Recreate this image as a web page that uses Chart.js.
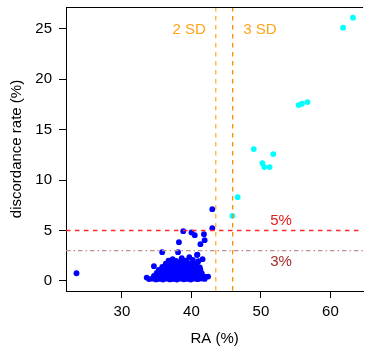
<!DOCTYPE html>
<html>
<head>
<meta charset="utf-8">
<script src="https://cdn.jsdelivr.net/npm/chart.js@4/dist/chart.umd.min.js"></script>
<style>
  html, body { margin: 0; padding: 0; background: #fff; }
  #wrap { width: 366px; height: 347px; position: relative; }
</style>
</head>
<body>
<div id="wrap"><canvas id="c"></canvas></div>
<script>
// Centres within the normal range (RA below the 3 SD cut-off)
const raNormal = [
  23.46, 43.0, 43.0, 38.82, 40.01, 40.48, 41.8, 41.9, 38.2, 41.29,
  35.79, 38.07, 40.86, 37.3, 41.6, 38.6, 39.7, 34.6, 33.56, 42.4,
  40.8, 40.2, 37.25, 38.7,
  33.9, 34.4, 34.9, 35.4, 35.9, 36.4, 36.9, 37.4, 37.9, 38.4, 38.9, 39.4, 39.9, 40.4, 40.9, 41.4, 41.9,
  34.6, 35.1, 35.6, 36.1, 36.6, 37.1, 37.6, 38.1, 38.6, 39.1, 39.6, 40.1, 40.6, 41.1, 41.6, 42.0,
  35.0, 35.5, 36.0, 36.5, 37.0, 37.5, 38.0, 38.5, 39.0, 39.5, 40.0, 40.5, 41.0, 41.5,
  35.3, 35.8, 36.3, 36.8, 37.3, 37.8, 38.3, 38.8, 39.3, 39.8, 40.3, 40.8, 41.3,
  35.8, 36.4, 36.9, 37.4, 38.0, 38.5, 39.1, 39.6, 40.2, 40.7, 41.2,
  36.3, 36.9, 37.6, 38.2, 38.9, 39.5, 40.1, 40.8,
  36.7, 37.8, 39.2, 41.0
];
const rateNormal = [
  0.76, 7.11, 5.23, 4.93, 4.8, 4.53, 4.63, 4.04, 3.84, 3.64,
  2.85, 2.85, 2.61, 2.15, 2.15, 2.25, 2.35, 1.46, 0.33, 0.43,
  2.58, 2.08, 2.08, 2.08,
  0.18, 0.22, 0.15, 0.2, 0.13, 0.22, 0.15, 0.19, 0.13, 0.22, 0.16, 0.2, 0.14, 0.22, 0.17, 0.24, 0.2,
  0.5, 0.42, 0.48, 0.44, 0.5, 0.42, 0.47, 0.44, 0.5, 0.42, 0.46, 0.45, 0.5, 0.42, 0.47, 0.4,
  0.8, 0.85, 0.77, 0.83, 0.75, 0.85, 0.79, 0.82, 0.75, 0.85, 0.78, 0.83, 0.77, 0.75,
  1.1, 1.2, 1.12, 1.18, 1.1, 1.2, 1.14, 1.17, 1.1, 1.2, 1.12, 1.15, 1.08,
  1.4, 1.5, 1.42, 1.48, 1.4, 1.5, 1.45, 1.4, 1.5, 1.42, 1.35,
  1.7, 1.8, 1.75, 1.8, 1.72, 1.78, 1.7, 1.75,
  2.0, 1.98, 2.0, 1.95
];

// Centres beyond the 3 SD cut-off
const raHigh = [63.24, 61.82, 55.42, 55.9, 56.7, 48.97, 51.77, 50.2, 50.48, 51.25, 46.65, 45.89];
const rateHigh = [26.09, 25.1, 17.43, 17.56, 17.73, 13.07, 12.57, 11.68, 11.28, 11.28, 8.3, 6.45];

// Axis ticks
const xTicks = [30, 40, 50, 60];
const yTicks = [0, 5, 10, 15, 20, 25];

// Cut-offs
const sdLines = [43.5, 45.93];
const sdLabels = ['2 SD', '3 SD'];
const rateLines = [5, 3];
const rateLabels = ['5%', '3%'];

const FONT = '"Liberation Sans", Arial, Helvetica, sans-serif';

const toPoints = (xs, ys) => xs.map((x, i) => ({ x: x, y: ys[i] }));

const overlay = {
  id: 'overlay',
  afterDatasetsDraw(chart) {
    const { ctx, chartArea: a, scales: { x, y } } = chart;
    ctx.save();
    ctx.beginPath();
    ctx.rect(a.left, a.top, a.right - a.left, a.bottom - a.top);
    ctx.clip();

    // vertical SD cut-offs
    const sdColors = ['#FFB030', '#FF8C00'];
    sdLines.forEach((v, i) => {
      const px = x.getPixelForValue(v);
      ctx.strokeStyle = sdColors[i];
      ctx.lineWidth = 1.3;
      ctx.setLineDash([4.5, 4.5]);
      ctx.beginPath();
      ctx.moveTo(px, a.top);
      ctx.lineTo(px, a.bottom);
      ctx.stroke();
    });

    // horizontal discordance-rate cut-offs
    const rateStyles = [
      { color: '#FF2828', dash: [4.5, 4.5] },
      { color: '#BC8F8F', dash: [4.5, 3, 1.5, 3] }
    ];
    rateLines.forEach((v, i) => {
      const py = y.getPixelForValue(v);
      ctx.strokeStyle = rateStyles[i].color;
      ctx.lineWidth = 1.4;
      ctx.setLineDash(rateStyles[i].dash);
      ctx.beginPath();
      ctx.moveTo(a.left, py);
      ctx.lineTo(a.right, py);
      ctx.stroke();
    });
    ctx.restore();

    ctx.save();
    ctx.font = '15px ' + FONT;
    ctx.textBaseline = 'middle';

    // SD labels beside their lines
    ctx.fillStyle = '#FFA31A';
    const labY = y.getPixelForValue(24.9);
    ctx.textAlign = 'right';
    ctx.fillText(sdLabels[0], x.getPixelForValue(sdLines[0]) - 10, labY);
    ctx.textAlign = 'left';
    ctx.fillText(sdLabels[1], x.getPixelForValue(sdLines[1]) + 10.5, labY);

    // rate labels
    ctx.textAlign = 'center';
    ctx.fillStyle = '#E41A1C';
    ctx.fillText(rateLabels[0], x.getPixelForValue(52.9), y.getPixelForValue(5.95));
    ctx.fillStyle = '#A52A2A';
    ctx.fillText(rateLabels[1], x.getPixelForValue(52.9), y.getPixelForValue(1.9));

    // frame top edge
    ctx.strokeStyle = '#000';
    ctx.lineWidth = 1;
    ctx.beginPath();
    ctx.moveTo(a.left, Math.round(a.top) + 0.5);
    ctx.lineTo(a.right, Math.round(a.top) + 0.5);
    ctx.stroke();

    // axis titles
    ctx.fillStyle = '#000';
    ctx.textAlign = 'center';
    ctx.fillText('RA (%)', (a.left + a.right) / 2, 339);
    ctx.translate(16.5, (a.top + a.bottom) / 2);
    ctx.rotate(-Math.PI / 2);
    ctx.fillText('discordance rate (%)', 0, 0);
    ctx.restore();
  }
};

new Chart(document.getElementById('c'), {
  type: 'scatter',
  data: {
    datasets: [
      {
        data: toPoints(raNormal, rateNormal),
        backgroundColor: '#0000FF',
        borderWidth: 0,
        pointRadius: 2.9,
        pointHoverRadius: 2.9
      },
      {
        data: toPoints(raHigh, rateHigh),
        backgroundColor: '#00FFFF',
        borderWidth: 0,
        pointRadius: 2.9,
        pointHoverRadius: 2.9
      }
    ]
  },
  options: {
    responsive: true,
    maintainAspectRatio: false,
    animation: false,
    events: [],
    layout: { padding: { top: 7, right: 0, left: 0, bottom: 0 } },
    plugins: { legend: { display: false }, tooltip: { enabled: false } },
    scales: {
      x: {
        type: 'linear',
        min: 21.95,
        max: 64.7,
        afterBuildTicks: s => { s.ticks = xTicks.map(v => ({ value: v })); },
        afterFit: s => { s.height = 56; s.paddingLeft = 0; s.paddingRight = 0; },
        ticks: {
          color: '#000',
          font: { family: FONT, size: 15 },
          padding: 5,
          maxRotation: 0
        },
        grid: { drawOnChartArea: false, drawTicks: true, tickLength: 7, tickColor: '#000' },
        border: { display: true, color: '#000', width: 1 }
      },
      y: {
        type: 'linear',
        min: -1.0,
        max: 27.15,
        afterBuildTicks: s => { s.ticks = yTicks.map(v => ({ value: v })); },
        afterFit: s => { s.width = 66; s.paddingTop = 0; s.paddingBottom = 0; },
        ticks: {
          color: '#000',
          font: { family: FONT, size: 15 },
          padding: 7
        },
        grid: { drawOnChartArea: false, drawTicks: true, tickLength: 7, tickColor: '#000' },
        border: { display: true, color: '#000', width: 1 }
      }
    }
  },
  plugins: [overlay]
});
</script>
</body>
</html>
